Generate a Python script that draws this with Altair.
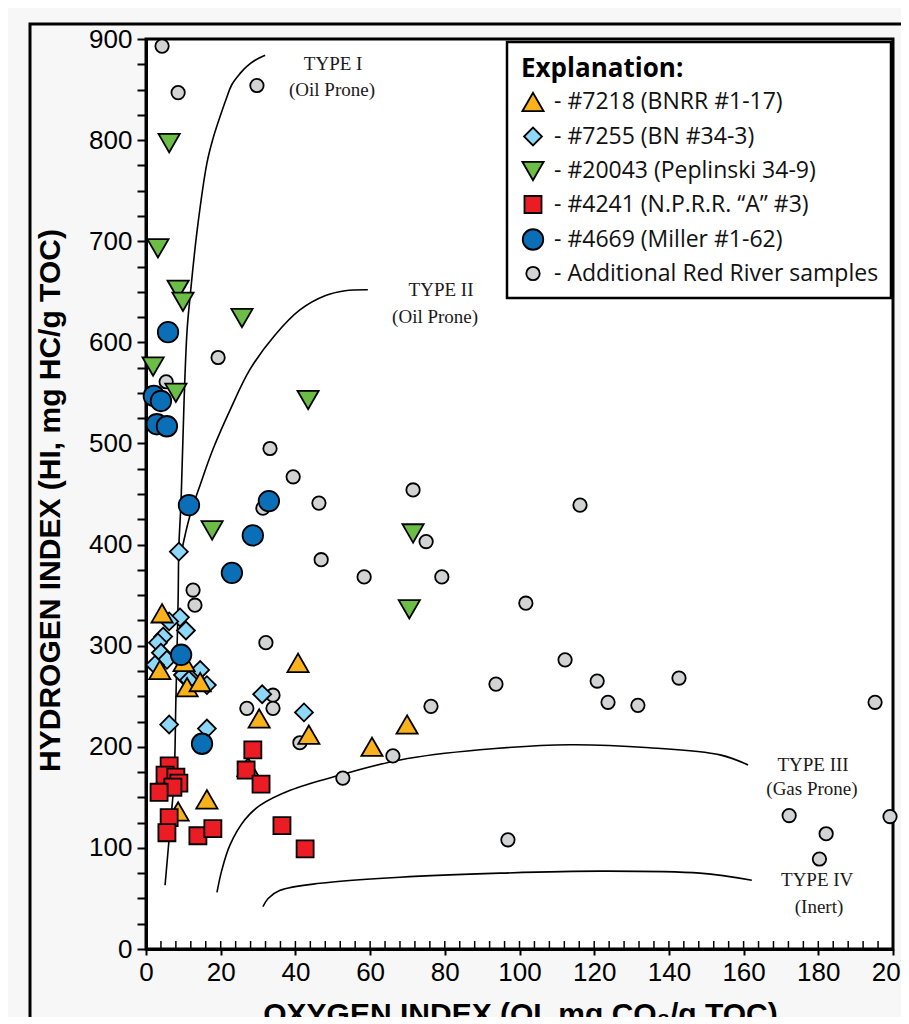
import altair as alt
import pandas as pd

# ---------------- data ----------------
series_names = [
    "- #7218 (BNRR #1-17)",
    "- #7255 (BN #34-3)",
    "- #20043 (Peplinski 34-9)",
    "- #4241 (N.P.R.R. \u201cA\u201d #3)",
    "- #4669 (Miller #1-62)",
    "- Additional Red River samples",
]

orange_x = [4.3, 3.7, 11.0, 14.5, 10.2, 40.7, 30.3, 43.6, 60.5, 69.9, 27.3, 16.3, 8.6]
orange_y = [332, 276, 259, 264, 284, 283, 228, 212, 200, 222, 180, 148, 136]

diamond_x = [8.8, 9.1, 6.2, 10.7, 4.6, 3.2, 4.0, 5.6, 2.4, 9.9, 14.5, 16.3, 11.5, 6.2, 16.3, 31.1, 42.3]
diamond_y = [393, 328, 324, 315, 309, 303, 293, 286, 281, 271, 276, 261, 266, 222, 218, 252, 234]

green_x = [6.2, 3.2, 8.6, 9.9, 25.7, 1.9, 8.0, 43.4, 17.7, 71.5, 70.5]
green_y = [797, 693, 652, 640, 624, 576, 550, 543, 414, 411, 336]

red_x = [6.2, 5.1, 8.0, 8.8, 7.2, 3.5, 28.6, 26.8, 30.8, 6.2, 5.6, 13.9, 17.9, 36.4, 42.6]
red_y = [181, 172, 170, 164, 160, 155, 197, 177, 163, 130, 115, 112, 119, 122, 99]

blue_x = [5.9, 2.1, 4.0, 2.9, 5.6, 11.5, 32.9, 28.6, 23.0, 9.4, 15.0]
blue_y = [610, 547, 542, 519, 517, 439, 443, 409, 372, 291, 203]

gray_x = [4.3, 8.6, 29.7, 19.3, 5.4, 33.2, 39.4, 31.3, 46.3, 71.5, 116.2, 46.9, 75.0,
          58.4, 79.2, 101.7, 12.6, 13.1, 32.1, 112.2, 120.8, 93.7, 142.7, 123.7, 131.7,
          195.2, 76.3, 34.0, 27.0, 34.0, 41.2, 52.7, 66.1, 96.9, 172.2, 182.1, 180.3, 199.2]
gray_y = [893, 847, 854, 585, 561, 495, 467, 436, 441, 454, 439, 385, 403,
          368, 368, 342, 355, 340, 303, 286, 265, 262, 268, 244, 241,
          244, 240, 251, 238, 238, 204, 169, 191, 108, 132, 114, 89, 131]

# kerogen type boundary curves
type1_x = [31.9, 29.2, 27.0, 25.2, 23.0, 21.4, 19.8, 17.9, 16.3, 13.7, 11.8, 11.0, 10.2,
           9.4, 8.8, 8.6, 8.0, 7.5, 6.4, 5.1]
type1_y = [884, 879, 873, 866, 855, 840, 823, 801, 777, 711, 645, 612, 543,
           444, 398, 345, 246, 167, 118, 63]
type2_x = [59.4, 53.3, 47.9, 41.2, 34.5, 27.8, 22.5, 17.9, 14.5, 11.8, 10.2, 9.4]
type2_y = [652, 651, 646, 632, 607, 573, 533, 494, 459, 429, 405, 390]
type3_x = [19.0, 20.3, 22.5, 26.5, 30.5, 38.6, 51.9, 68.0, 89.4, 113.5, 134.9, 153.7, 161.2]
type3_y = [56, 78, 103, 128, 142, 157, 172, 187, 197, 202, 199, 192, 182]
type4_x = [31.3, 32.7, 35.9, 46.6, 68.0, 94.8, 121.6, 148.3, 162.2]
type4_y = [42, 50, 58, 65, 71, 75, 77, 75, 68]

label_text = ["TYPE I", "(Oil Prone)", "TYPE II", "(Oil Prone)", "TYPE III", "(Gas Prone)", "TYPE IV", "(Inert)"]
label_x = [50.1, 49.8, 79.0, 77.4, 178.6, 178.3, 179.7, 180.2]
label_y = [875, 850, 652, 625, 182, 158, 68, 42]

x_ticks = list(range(0, 201, 20))
x_minor = list(range(0, 201, 4))
y_ticks = list(range(0, 901, 25))

# ---------------- tables ----------------
groups = [
    (orange_x, orange_y, 0, 2),
    (diamond_x, diamond_y, 1, 1),
    (green_x, green_y, 2, 3),
    (red_x, red_y, 3, 4),
    (blue_x, blue_y, 4, 5),
    (gray_x, gray_y, 5, 0),
]
rows = []
for xs, ys, si, z in groups:
    for a, b in zip(xs, ys):
        rows.append({"oi": a, "hi": b, "series": series_names[si], "z": z})
pts_df = pd.DataFrame(rows)

crows = []
for name, xs, ys in [("I", type1_x, type1_y), ("II", type2_x, type2_y),
                     ("III", type3_x, type3_y), ("IV", type4_x, type4_y)]:
    for i, (a, b) in enumerate(zip(xs, ys)):
        crows.append({"oi": a, "hi": b, "curve": name, "idx": i})
curve_df = pd.DataFrame(crows)

lab_df = pd.DataFrame({"oi": label_x, "hi": label_y, "text": label_text})
minor_df = pd.DataFrame({"oi": x_minor})
one_df = pd.DataFrame({"a": [0]})

W, H = 747, 910
xscale = alt.Scale(domain=[0, 200], nice=False, zero=False)
yscale = alt.Scale(domain=[0, 900], nice=False, zero=False)
SANS = "Liberation Sans, Arial, sans-serif"

x_axis = alt.Axis(
    values=x_ticks, tickSize=6, tickWidth=2, tickColor="black",
    domainColor="black", domainWidth=3, grid=False,
    labelFont=SANS, labelFontSize=26, labelColor="black", labelPadding=4,
    labelFlush=False,
    title="OXYGEN INDEX (OI, mg CO\u2082/g TOC)", titleFont=SANS, titleFontSize=30,
    titleFontWeight="bold", titleColor="black", titleX=374, titleY=65,
    titleBaseline="middle", titleAlign="center")
y_axis = alt.Axis(
    values=y_ticks, labelExpr="datum.value % 100 == 0 ? datum.label : ''",
    tickSize=9, tickWidth=2, tickColor="black",
    domainColor="black", domainWidth=3, grid=False,
    labelFont=SANS, labelFontSize=26, labelColor="black", labelPadding=5,
    labelFlush=False,
    title="HYDROGEN INDEX (HI, mg HC/g TOC)", titleFont=SANS, titleFontSize=30,
    titleFontWeight="bold", titleColor="black", titleX=-96, titleY=461,
    titleAngle=270, titleBaseline="middle", titleAlign="center")

x_enc = alt.X("oi:Q", scale=xscale, axis=x_axis)
y_enc = alt.Y("hi:Q", scale=yscale, axis=y_axis)

frame = alt.Chart(one_df).mark_rect(fill="transparent", stroke="black", strokeWidth=3).encode(
    x=alt.value(-116), x2=alt.value(900), y=alt.value(-15), y2=alt.value(1100))

legend_box = alt.Chart(one_df).mark_rect(fill="white", stroke="black", strokeWidth=2.5).encode(
    x=alt.value(361), x2=alt.value(745), y=alt.value(3), y2=alt.value(259))

minor = alt.Chart(minor_df).mark_rule(color="black", strokeWidth=1.5).encode(
    x=x_enc, y=alt.value(H), y2=alt.value(H - 8))

curves = alt.Chart(curve_df).mark_line(color="black", strokeWidth=1.6,
                                       interpolate="catmull-rom").encode(
    x=x_enc, y=y_enc, detail="curve:N", order="idx:Q")

labels = alt.Chart(lab_df).mark_text(font="Liberation Serif", fontSize=19, color="#1a1a1a",
                                     baseline="middle", align="center").encode(
    x=x_enc, y=y_enc, text="text:N")

leg = alt.Legend(title="Explanation:", orient="none", legendX=363, legendY=5,
                 titleFont="Open Sans", titleFontSize=26, titleFontWeight="bold", titleColor="black",
                 labelFont="Open Sans", labelFontSize=23, labelColor="#111111",
                 symbolStrokeColor="black", symbolStrokeWidth=1.8, symbolOpacity=1,
                 rowPadding=8, labelOffset=9, padding=12, titlePadding=8, labelLimit=400)

shapes = ["triangle-up", "diamond", "triangle-down", "square", "circle", "circle"]
colors = ["#F9B21B", "#8DD8F8", "#6BBD45", "#EC1C24", "#0A6FB7", "#D1D3D4"]
sizes = [450, 320, 450, 290, 420, 180]
strokes = ["black"] * 6

points = alt.Chart(pts_df).mark_point(filled=True, strokeWidth=1.8,
                                      opacity=1, fillOpacity=1, strokeOpacity=1).encode(
    x=x_enc, y=y_enc,
    shape=alt.Shape("series:N", scale=alt.Scale(domain=series_names, range=shapes), legend=leg),
    fill=alt.Fill("series:N", scale=alt.Scale(domain=series_names, range=colors), legend=leg),
    stroke=alt.Stroke("series:N", scale=alt.Scale(domain=series_names, range=strokes), legend=leg),
    size=alt.Size("series:N", scale=alt.Scale(type="ordinal", domain=series_names, range=sizes),
                  legend=leg),
    order=alt.Order("z:Q"),
)

chart = alt.layer(frame, legend_box, minor, curves, labels, points).properties(
    width=W, height=H,
    autosize=alt.AutoSizeParams(type="none"),
    padding={"left": 138, "top": 31, "right": 8, "bottom": 68},
    background="#f7f7f7",
).configure_view(fill="white", stroke="black", strokeWidth=3)

chart.save("out.html", embed_options={"renderer": "svg", "actions": False})
